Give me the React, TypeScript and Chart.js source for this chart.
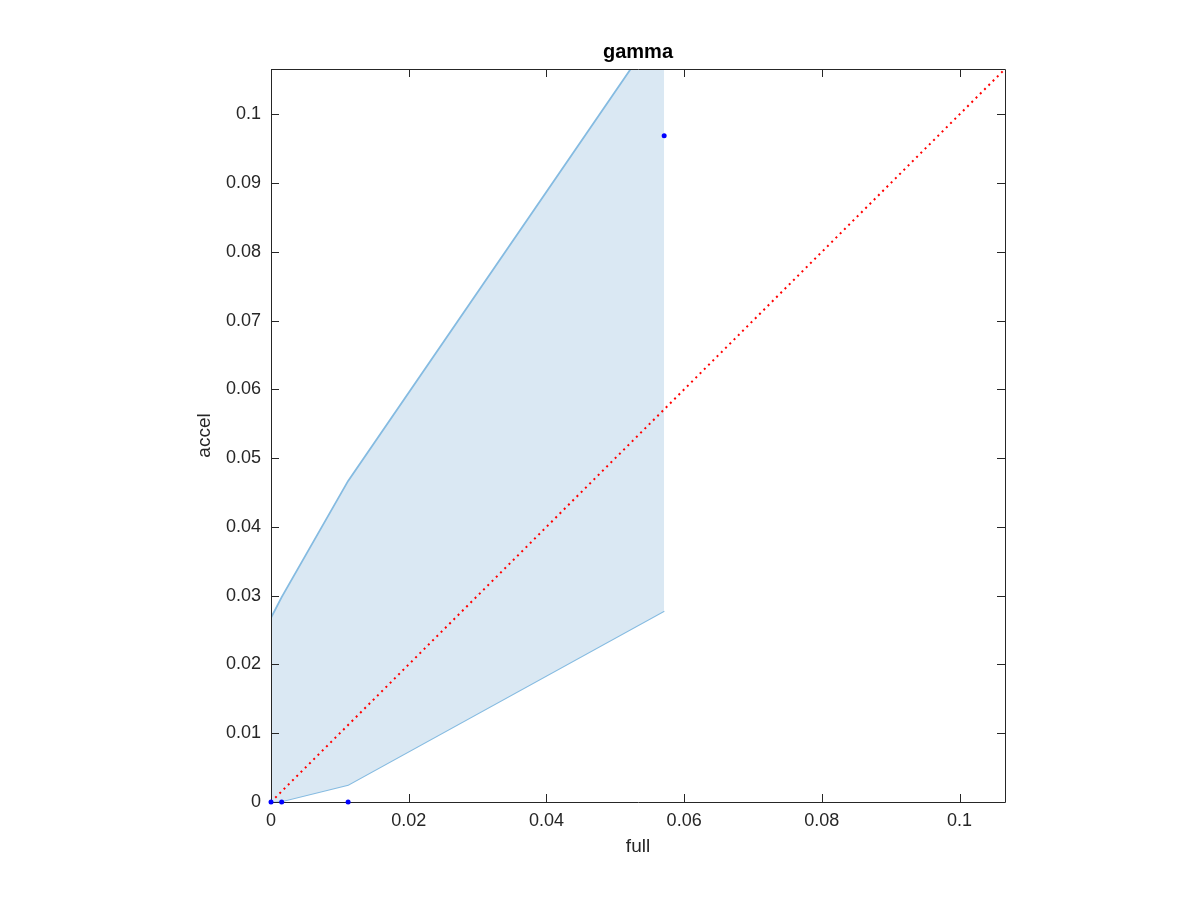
import React, { useEffect, useRef } from "react";
import { Chart, registerables } from "chart.js";

Chart.register(...registerables);

const TITLE = "gamma";
const X_LABEL = "full";
const Y_LABEL = "accel";

const AXIS_MAX = 0.1066;
const xTicks = [0, 0.02, 0.04, 0.06, 0.08, 0.1];
const yTicks = [0, 0.01, 0.02, 0.03, 0.04, 0.05, 0.06, 0.07, 0.08, 0.09, 0.1];

const bandX = [0, 0.00155, 0.0112, 0.0571];
const bandUpper = [0.0268, 0.0298, 0.0467, 0.1137];
const bandLower = [0, 0.0001, 0.0025, 0.0278];

const pointX = [0, 0.00155, 0.0112, 0.0571];
const pointY = [0, 0, 0, 0.0969];

const diagX = [0, AXIS_MAX];
const diagY = [0, AXIS_MAX];

const FONT = '"Liberation Sans", Arial, Helvetica, sans-serif';
const AXIS_COLOR = "#262626";

const fmt = (v: number) => (v === 0 ? "0" : String(Number(v.toFixed(3))));

function drawBox(chart: any) {
  const { ctx, chartArea } = chart;
  const { left, right, top, bottom } = chartArea;
  const xs = chart.scales.x;
  const ys = chart.scales.y;
  ctx.save();
  ctx.strokeStyle = AXIS_COLOR;
  ctx.lineWidth = 1;
  ctx.setLineDash([]);
  ctx.beginPath();
  ctx.rect(Math.round(left) + 0.5, Math.round(top) + 0.5, Math.round(right - left), Math.round(bottom - top));
  ctx.stroke();
  const tl = 8;
  ctx.beginPath();
  xTicks.forEach((v) => {
    const px = Math.round(xs.getPixelForValue(v)) + 0.5;
    ctx.moveTo(px, bottom);
    ctx.lineTo(px, bottom - tl);
    ctx.moveTo(px, top);
    ctx.lineTo(px, top + tl);
  });
  yTicks.forEach((v) => {
    const py = Math.round(ys.getPixelForValue(v)) + 0.5;
    ctx.moveTo(left, py);
    ctx.lineTo(left + tl, py);
    ctx.moveTo(right, py);
    ctx.lineTo(right - tl, py);
  });
  ctx.stroke();
  ctx.restore();
}

const boxPlugin = {
  id: "matlabBox",
  beforeDatasetDraw(chart: any, args: any) {
    if (args.index === 3) drawBox(chart);
  },
  afterDraw(chart: any) {
    const { ctx, chartArea } = chart;
    ctx.save();
    ctx.fillStyle = "#000";
    ctx.font = `bold 20px ${FONT}`;
    ctx.textAlign = "center";
    ctx.textBaseline = "alphabetic";
    ctx.fillText(TITLE, (chartArea.left + chartArea.right) / 2, 58);
    ctx.restore();
  },
};

export default function App() {
  const canvasRef = useRef<HTMLCanvasElement | null>(null);

  useEffect(() => {
    document.body.style.margin = "0";
    const canvas = canvasRef.current;
    if (!canvas) return;
    const chart = new Chart(canvas, {
      type: "scatter",
      data: {
        datasets: [
          {
            label: "upper",
            type: "line",
            data: bandX.map((x, i) => ({ x, y: bandUpper[i] })),
            borderColor: "#85BBE1",
            borderWidth: 1.8,
            backgroundColor: "#DAE8F3",
            pointRadius: 0,
            fill: "+1",
            order: 3,
          },
          {
            label: "lower",
            type: "line",
            data: bandX.map((x, i) => ({ x, y: bandLower[i] })),
            borderColor: "#85BBE1",
            borderWidth: 1.8,
            pointRadius: 0,
            fill: false,
            order: 3,
          },
          {
            label: "diag",
            type: "line",
            data: diagX.map((x, i) => ({ x, y: diagY[i] })),
            borderColor: "#FF0000",
            borderWidth: 2,
            borderDash: [2, 4],
            pointRadius: 0,
            fill: false,
            order: 2,
          },
          {
            label: "points",
            data: pointX.map((x, i) => ({ x, y: pointY[i] })),
            backgroundColor: "#0000FF",
            borderColor: "#0000FF",
            pointRadius: 2.5,
            borderWidth: 0,
            showLine: false,
            clip: false,
            order: 1,
          },
        ],
      },
      options: {
        animation: false,
        responsive: false,
        maintainAspectRatio: false,
        layout: { padding: { top: 69, right: 195, left: 0, bottom: 0 } },
        plugins: {
          legend: { display: false },
          tooltip: { enabled: false },
          title: { display: false },
        },
        scales: {
          x: {
            type: "linear",
            min: 0,
            max: AXIS_MAX,
            afterFit: (s: any) => {
              s.height = 98;
            },
            afterBuildTicks: (s: any) => {
              s.ticks = xTicks.map((v) => ({ value: v }));
            },
            grid: { display: false, drawTicks: false },
            border: { display: false },
            ticks: {
              callback: (v: any) => fmt(Number(v)),
              font: { size: 18, family: FONT },
              color: AXIS_COLOR,
              padding: 8,
              maxRotation: 0,
              autoSkip: false,
            },
            title: {
              display: true,
              text: X_LABEL,
              font: { size: 19, family: FONT },
              color: AXIS_COLOR,
              padding: { top: 0, bottom: 42 },
            },
          },
          y: {
            type: "linear",
            min: 0,
            max: AXIS_MAX,
            afterFit: (s: any) => {
              s.width = 271;
            },
            afterBuildTicks: (s: any) => {
              s.ticks = yTicks.map((v) => ({ value: v }));
            },
            grid: { display: false, drawTicks: false },
            border: { display: false },
            ticks: {
              callback: (v: any) => fmt(Number(v)),
              font: { size: 18, family: FONT },
              color: AXIS_COLOR,
              padding: 10,
              autoSkip: false,
            },
            title: {
              display: true,
              text: Y_LABEL,
              font: { size: 19, family: FONT },
              color: AXIS_COLOR,
              padding: { top: 193, bottom: 0 },
            },
          },
        },
      },
      plugins: [boxPlugin],
    });
    return () => chart.destroy();
  }, []);

  return (
    <div style={{ width: 1200, height: 900, background: "#fff" }}>
      <canvas ref={canvasRef} width={1200} height={900} style={{ display: "block" }} />
    </div>
  );
}
